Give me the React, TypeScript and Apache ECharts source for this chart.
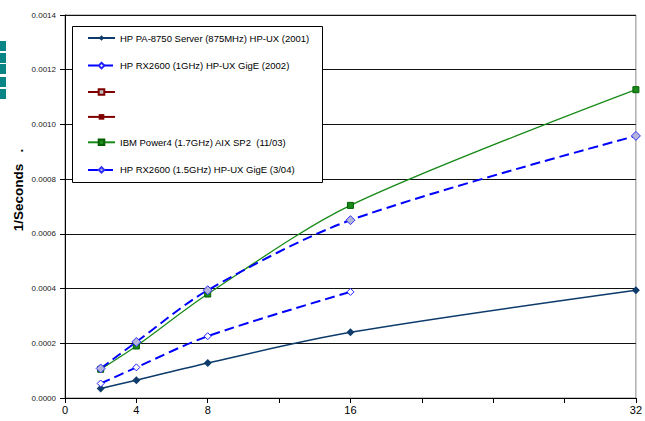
import React, { useEffect, useRef } from "react";
import * as echarts from "echarts";

const threads = [2, 4, 8, 16, 32];
const hpPA8750 = [0.000035, 0.000065, 0.000128, 0.00024, 0.000394];
const hpRX2600_1GHz = [0.000053, 0.000112, 0.000226, 0.000388];
const ibmPower4 = [0.000105, 0.00019, 0.00038, 0.000704, 0.001127];
const hpRX2600_15GHz = [0.000108, 0.000205, 0.000394, 0.00065, 0.000958];
const xTickLabels = [0, 4, 8, 16, 32];
const seriesNames = [
  "HP PA-8750 Server (875MHz) HP-UX (2001)",
  "HP RX2600 (1GHz) HP-UX GigE (2002)",
  "blank1",
  "blank2",
  "IBM Power4 (1.7GHz) AIX SP2  (11/03)",
  "HP RX2600 (1.5GHz) HP-UX GigE (3/04)",
];
const blankNames = ["blank1", "blank2"];

const pairs = (ys: number[]) => ys.map((y, i) => [threads[i], y]);

export default function App() {
  const ref = useRef<HTMLDivElement>(null);
  useEffect(() => {
    document.body.style.margin = "0";
    const chart = echarts.init(ref.current!, undefined, { renderer: "svg" });
    const font = "Liberation Sans, Arial, sans-serif";
    const teal = [41, 53, 64, 77, 89].map((y) => ({
      type: "rect",
      shape: { x: 0, y, width: 6, height: 10 },
      style: { fill: "#0a8585" },
    }));
    chart.setOption({
      animation: false,
      backgroundColor: "#fff",
      textStyle: { fontFamily: font },
      grid: {
        left: 65,
        right: 7,
        top: 15,
        bottom: 23,
        show: true,
        borderColor: "#888",
        borderWidth: 1,
        backgroundColor: "#fff",
      },
      xAxis: {
        type: "value",
        min: 0,
        max: 32,
        interval: 4,
        axisLine: { show: true, lineStyle: { color: "#000", width: 1 } },
        axisTick: { show: true, length: 5, lineStyle: { color: "#000" } },
        splitLine: { show: false },
        axisLabel: {
          color: "#000",
          fontSize: 11,
          fontFamily: font,
          margin: 6,
          formatter: (v: number) => (xTickLabels.includes(v) ? String(v) : ""),
        },
      },
      yAxis: {
        type: "value",
        min: 0,
        max: 0.0014,
        interval: 0.0002,
        axisLine: { show: true, lineStyle: { color: "#000", width: 1 } },
        axisTick: { show: true, length: 5, lineStyle: { color: "#000" } },
        splitLine: { show: true, lineStyle: { color: "#111", width: 1 } },
        axisLabel: {
          color: "#222",
          fontSize: 8,
          fontFamily: font,
          margin: 9,
          formatter: (v: number) => v.toFixed(4),
        },
      },
      legend: {
        orient: "vertical",
        left: 72,
        top: 25,
        padding: [8, 10, 8, 15],
        itemWidth: 27,
        itemHeight: 7,
        itemGap: 17.6,
        z: 6,
        data: seriesNames,
        selectedMode: false,
        textStyle: { color: "#000", fontSize: 9.5, fontFamily: font },
        formatter: (name: string) => (blankNames.includes(name) ? "" : name),
      },
      graphic: [
        ...teal,
        {
          type: "rect",
          z: 3,
          shape: { x: 72.5, y: 26.5, width: 250, height: 156 },
          style: { fill: "#fff", stroke: "#000", lineWidth: 1 },
        },
        {
          type: "text",
          x: 18,
          y: 190,
          rotation: Math.PI / 2,
          style: {
            text: "1/Seconds   .",
            fill: "#000",
            font: `bold 13.5px ${font}`,
            align: "center",
            verticalAlign: "middle",
          },
        },
      ],
      series: [
        {
          name: seriesNames[0],
          type: "line",
          data: pairs(hpPA8750),
          smooth: 0.3,
          symbol: "diamond",
          symbolSize: 8,
          lineStyle: { color: "#0d3b6b", width: 1.5 },
          itemStyle: { color: "#0d3b6b" },
        },
        {
          name: seriesNames[1],
          type: "line",
          data: pairs(hpRX2600_1GHz),
          smooth: 0.3,
          symbol: "diamond",
          symbolSize: 7,
          lineStyle: { color: "#0000ff", width: 2, type: [10, 5] },
          itemStyle: { color: "#ffffff", borderColor: "#2020ff", borderWidth: 1 },
        },
        {
          name: seriesNames[2],
          type: "line",
          data: [],
          symbol: "rect",
          symbolSize: 6,
          lineStyle: { color: "#800000", width: 2 },
          itemStyle: { color: "#c0c0c0", borderColor: "#800000", borderWidth: 1 },
        },
        {
          name: seriesNames[3],
          type: "line",
          data: [],
          symbol: "rect",
          symbolSize: 6,
          lineStyle: { color: "#800000", width: 2 },
          itemStyle: { color: "#800000" },
        },
        {
          name: seriesNames[4],
          type: "line",
          data: pairs(ibmPower4),
          smooth: 0.3,
          symbol: "rect",
          symbolSize: 6,
          lineStyle: { color: "#1a8a1a", width: 1.3 },
          itemStyle: { color: "#1a8a1a", borderColor: "#006000", borderWidth: 1 },
        },
        {
          name: seriesNames[5],
          type: "line",
          data: pairs(hpRX2600_15GHz),
          smooth: 0.3,
          symbol: "diamond",
          symbolSize: 9,
          lineStyle: { color: "#0000ff", width: 2, type: [10, 5] },
          itemStyle: { color: "#b4b4d8", borderColor: "#3030ff", borderWidth: 1 },
        },
      ],
    });
    return () => chart.dispose();
  }, []);
  return <div ref={ref} style={{ width: 645, height: 421 }} />;
}
